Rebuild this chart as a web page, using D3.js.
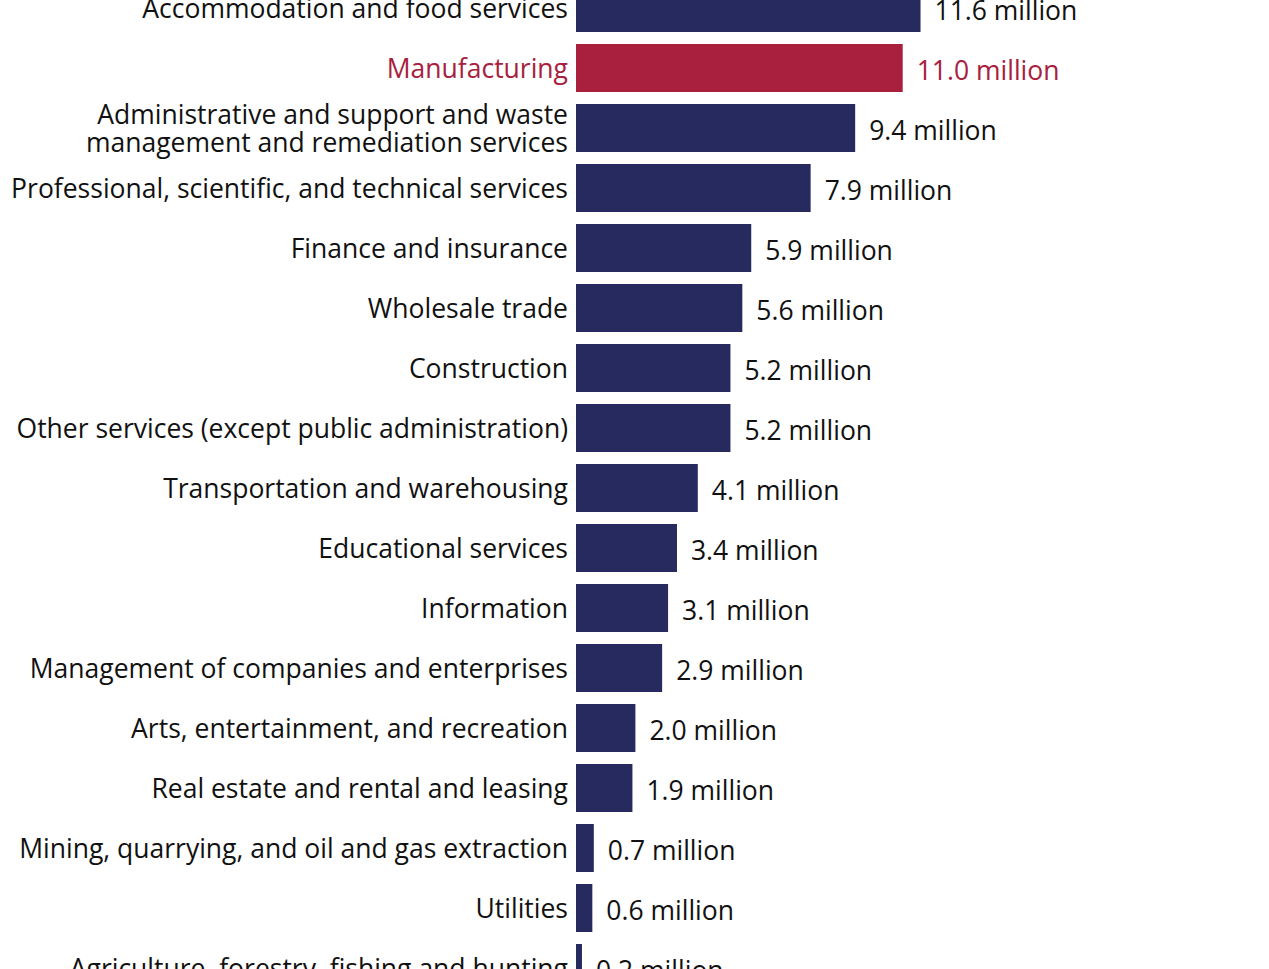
<!DOCTYPE html>
<html>
<head>
<meta charset="utf-8">
<script src="https://cdn.jsdelivr.net/npm/d3@7"></script>
<style>
  body { margin: 0; background: #fff; }
  text { font-family: "Open Sans", "Noto Sans", sans-serif; }
</style>
</head>
<body>
<div id="chart"></div>
<script>
// industries, top to bottom
var industries = [
  "Accommodation and food services",
  "Manufacturing",
  "Administrative and support and waste|management and remediation services",
  "Professional, scientific, and technical services",
  "Finance and insurance",
  "Wholesale trade",
  "Construction",
  "Other services (except public administration)",
  "Transportation and warehousing",
  "Educational services",
  "Information",
  "Management of companies and enterprises",
  "Arts, entertainment, and recreation",
  "Real estate and rental and leasing",
  "Mining, quarrying, and oil and gas extraction",
  "Utilities",
  "Agriculture, forestry, fishing and hunting"
];
// employment, millions
var jobs = [11.6, 11.0, 9.4, 7.9, 5.9, 5.6, 5.2, 5.2, 4.1, 3.4, 3.1, 2.9, 2.0, 1.9, 0.6, 0.55, 0.2];
var labels = ["11.6", "11.0", "9.4", "7.9", "5.9", "5.6", "5.2", "5.2", "4.1", "3.4", "3.1", "2.9", "2.0", "1.9", "0.7", "0.6", "0.2"];
var highlight = "Manufacturing";

var width = 1269, height = 969;
var navy = "#262a5e", red = "#a8203e";
var fontSize = "26.5px";

var svg = d3.select("#chart").append("svg")
  .attr("width", width)
  .attr("height", height);

var x = d3.scaleLinear().domain([0, 14]).range([576, 576 + 14 * 29.7]);
var y = d3.scaleBand().domain(industries)
  .range([-22, -22 + 60 * industries.length])
  .paddingInner(0.2).paddingOuter(0.1);

var rows = svg.selectAll("g.row").data(industries).enter()
  .append("g").attr("class", "row");

rows.append("rect")
  .attr("x", x(0))
  .attr("y", function(d) { return y(d); })
  .attr("width", function(d, i) { return x(jobs[i]) - x(0); })
  .attr("height", y.bandwidth())
  .attr("fill", function(d) { return d == highlight ? red : navy; });

rows.each(function(d, i) {
  var g = d3.select(this);
  var cy = y(d) + y.bandwidth() / 2;
  var lines = d.split("|");
  var col = d == highlight ? red : "#111";
  lines.forEach(function(l, k) {
    g.append("text")
      .attr("x", 568)
      .attr("y", cy + (k - (lines.length - 1) / 2) * 28)
      .attr("dy", "0.36em")
      .attr("text-anchor", "end")
      .attr("font-size", fontSize)
      .attr("fill", col)
      .text(l);
  });
  g.append("text")
    .attr("x", x(jobs[i]) + 14)
    .attr("y", cy + 2)
    .attr("dy", "0.36em")
    .attr("font-size", fontSize)
    .attr("fill", col)
    .text(labels[i] + " million");
});
</script>
</body>
</html>
